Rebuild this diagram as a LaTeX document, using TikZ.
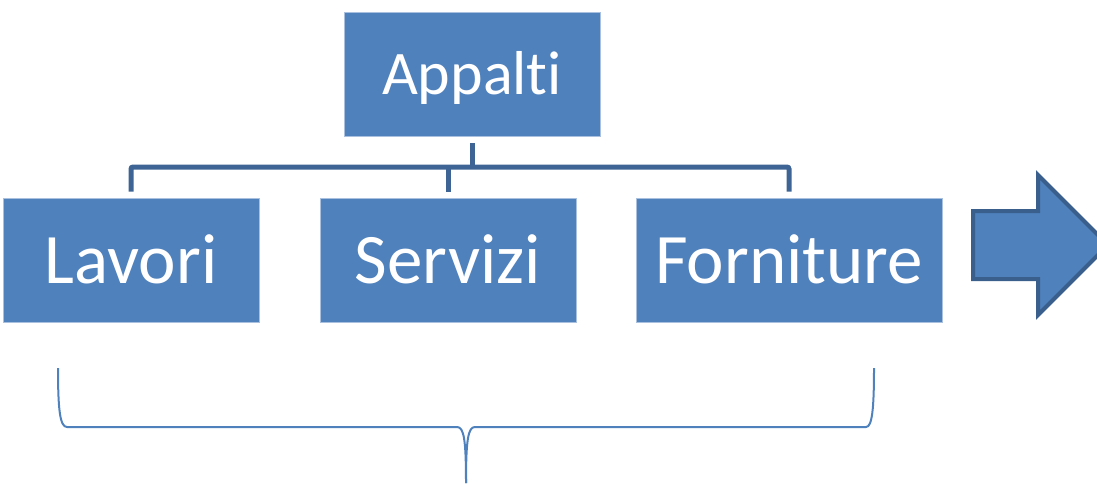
\documentclass[tikz,border=0pt]{standalone}
\usepackage{fontspec}
\setmainfont{Carlito}[Ligatures=NoCommon]
\usepackage{xcolor}
\usepackage{tikz}
\usetikzlibrary{calc}
\definecolor{boxblue}{HTML}{4F81BD}
\definecolor{boxedge}{HTML}{A9C0DE}
\definecolor{treeline}{HTML}{3E6495}
\definecolor{arrowedge}{HTML}{3A5F8D}
\tikzset{
  every node/.style={text=white},
  unit/.style={draw=boxedge,line width=0.8pt,fill=boxblue,minimum height=124pt,
    inner sep=0pt,text depth=0pt},
  topunit/.style={unit,minimum width=256pt,text height=40pt,font=\fontsize{62}{74}\selectfont},
  subunit/.style={unit,minimum width=256pt,text height=46pt,font=\fontsize{71}{85}\selectfont},
  tree/.style={draw=treeline,line width=5pt},
  bracket/.style={draw=boxblue,line width=2pt},
  bigarrow/.style={draw=arrowedge,line width=4pt,fill=boxblue,line join=miter}
}
\begin{document}
\begin{tikzpicture}[x=1pt,y=-1pt]
  \useasboundingbox (0,0) rectangle (1097,483);
  % boxes
  \node[topunit] (appalti) at (472,74) {Appalti};
  \node[subunit] (lavori) at (131,260) {Lavori};
  \node[subunit] (servizi) at (448,260) {Servizi};
  \node[subunit,minimum width=306pt] (forniture) at (789,260) {Forniture};
  \coordinate (bus) at (472,167);

  % tree connector
  \draw[tree,shorten <=7pt] (appalti.south) -- (appalti.south |- bus);
  \draw[tree,rounded corners=2pt,shorten <=6pt,shorten >=6pt]
    (lavori.north) -- (lavori.north |- bus) -- (forniture.north |- bus) -- (forniture.north);
  \draw[tree,shorten <=6pt] (servizi.north) -- (servizi.north |- bus);

  % block arrow
  \draw[bigarrow] (973,211) -- (1038,211) -- (1038,175) -- (1108,245)
    -- (1038,315) -- (1038,279) -- (973,279) -- cycle;

  % brace
  \coordinate (bl) at (58,368);
  \coordinate (br) at (874,368);
  \coordinate (bm) at (466,483);
  \draw[bracket] (bl) .. controls (58,410) and (60,427) .. (67,427) -- (457,427)
    .. controls (464,427) and (466,440) .. (bm);
  \draw[bracket] (br) .. controls (874,410) and (872,427) .. (866,427) -- (475,427)
    .. controls (468,427) and (466,440) .. (bm);
\end{tikzpicture}
\end{document}
